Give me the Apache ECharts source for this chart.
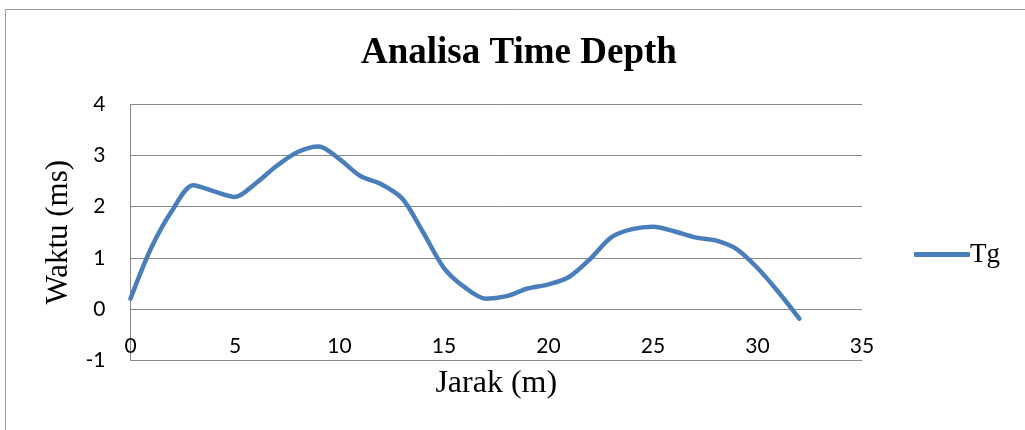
<!DOCTYPE html>
<html>
<head>
<meta charset="utf-8">
<title>Analisa Time Depth</title>
<script src="https://cdn.jsdelivr.net/npm/echarts@6/dist/echarts.min.js"></script>
<style>
  html, body { margin: 0; padding: 0; background: #fff; }
  #chart { width: 1025px; height: 430px; }
</style>
</head>
<body>
<div id="chart"></div>
<script>
// Distance along the line (m)
const jarak = [0, 1, 2, 3, 4, 5, 6, 7, 8, 9, 10, 11, 12, 13, 14, 15, 16,
               17, 18, 19, 20, 21, 22, 23, 24, 25, 26, 27, 28, 29, 30, 31, 32];
// Travel time Tg (ms)
const tg = [0.2, 1.2, 1.93, 2.42, 2.3, 2.19, 2.46, 2.8, 3.07, 3.18, 2.93, 2.6, 2.44,
            2.16, 1.5, 0.8, 0.42, 0.2, 0.25, 0.4, 0.48, 0.63, 0.98, 1.4, 1.56, 1.61,
            1.52, 1.4, 1.34, 1.17, 0.8, 0.33, -0.19];
const seriesName = 'Tg';

const chart = echarts.init(document.getElementById('chart'), null, { renderer: 'canvas' });

const serif = '"Liberation Serif", "Times New Roman", serif';
const sans = 'Lato, "Open Sans", sans-serif';
const gridColor = '#888888';

chart.setOption({
  animation: false,
  backgroundColor: '#ffffff',
  graphic: [{
    type: 'rect',
    shape: { x: 5.5, y: 9.5, width: 1100, height: 600 },
    style: { fill: 'none', stroke: '#9a9a9a', lineWidth: 1 },
    silent: true
  }],
  title: {
    text: 'Analisa Time Depth',
    left: 356,
    top: 30,
    textStyle: { fontFamily: serif, fontWeight: 'bold', fontSize: 37, color: '#000' }
  },
  legend: {
    data: [seriesName],
    left: 909,
    top: 236,
    icon: 'roundRect',
    itemWidth: 56,
    itemHeight: 5,
    itemGap: 0,
    textStyle: { fontFamily: serif, fontSize: 27, color: '#000', padding: [0, 0, 0, -5] }
  },
  grid: {
    left: 130.5, right: 163, top: 104.5, bottom: 70,
    containLabel: false, outerBoundsMode: 'none'
  },
  xAxis: {
    type: 'value',
    min: 0,
    max: 35,
    interval: 5,
    name: 'Jarak (m)',
    nameLocation: 'middle',
    nameGap: 8,
    nameTextStyle: { fontFamily: serif, fontSize: 32, color: '#000' },
    axisLine: { show: true, onZero: false, lineStyle: { color: gridColor, width: 1 } },
    axisTick: { show: false },
    axisLabel: { inside: true, margin: 3, fontFamily: sans, fontSize: 21, color: '#000' },
    splitLine: { show: false }
  },
  yAxis: {
    type: 'value',
    min: -1,
    max: 4,
    interval: 1,
    name: 'Waktu (ms)',
    nameLocation: 'middle',
    nameGap: 55,
    nameTextStyle: { fontFamily: serif, fontSize: 31, color: '#000' },
    axisLine: { show: true, lineStyle: { color: gridColor, width: 1 } },
    axisTick: { show: false },
    axisLabel: { margin: 25, fontFamily: sans, fontSize: 21, color: '#000' },
    splitLine: { show: true, lineStyle: { color: gridColor, width: 1 } }
  },
  series: [{
    name: seriesName,
    type: 'line',
    data: jarak.map((x, i) => [x, tg[i]]),
    smooth: 0.3,
    showSymbol: false,
    symbol: 'none',
    lineStyle: { color: '#4a7ebb', width: 4.5, cap: 'round', join: 'round' },
    itemStyle: { color: '#4a7ebb' }
  }]
});
</script>
</body>
</html>
